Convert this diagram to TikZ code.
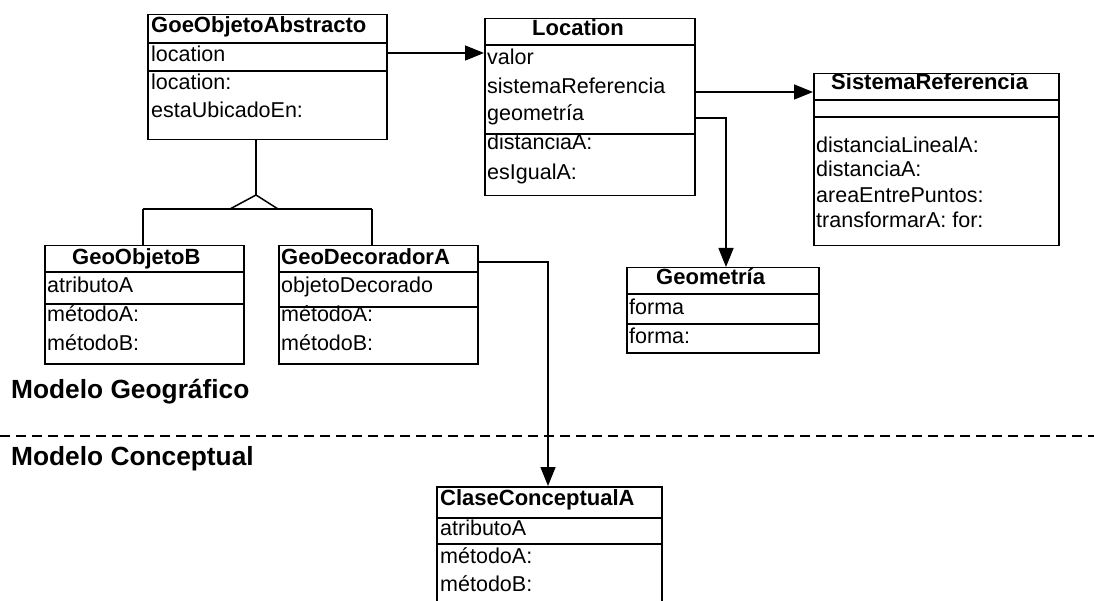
\documentclass[tikz,border=0pt]{standalone}
\usepackage{fontspec}
\setmainfont{Liberation Sans}
\usetikzlibrary{arrows.meta}
\begin{document}
\begin{tikzpicture}[x=1pt,y=-1pt,
  classbox/.style={draw, line width=1.5pt, rectangle, inner sep=0pt, anchor=north west},
  sep/.style={line width=1.5pt},
  member/.style={anchor=base west, inner sep=0pt, font=\fontsize{21.5}{25}\selectfont},
  title/.style={anchor=base west, inner sep=0pt, font=\fontsize{22}{25}\selectfont\bfseries},
  heading/.style={anchor=base west, inner sep=0pt, font=\fontsize{26.3}{30}\selectfont\bfseries},
  link/.style={line width=1.5pt},
  assoc/.style={link, -{Triangle[length=19pt,width=15pt]}},
]
\fill[white] (0,0) rectangle (1094,601);
\clip (0,0) rectangle (1094,601);

% ---- GoeObjetoAbstracto
\node[classbox, minimum width=239pt, minimum height=125pt] (goe) at (147,14) {};
\draw[sep] (147,43) -- (386,43);
\draw[sep] (147,71) -- (386,71);
\node[title]  (goeT)  at (151,33)  {GoeObjetoAbstracto};
\node[member] (goeA1) at (151,62)  {location};
\node[member] (goeM1) at (151,90)  {location:};
\node[member] (goeM2) at (151,118) {estaUbicadoEn:};

% ---- Location
\node[classbox, minimum width=210pt, minimum height=177pt] (loc) at (484,18) {};
\draw[sep] (484,45) -- (694,45);
\draw[sep] (484,134) -- (694,134);
\node[title]  (locT)  at (532,36)  {Location};
\node[member] (locA1) at (487,65)  {valor};
\node[member] (locA2) at (487,94)  {sistemaReferencia};
\node[member] (locA3) at (487,121) {geometría};
\node[member] (locM1) at (487,150) {distanciaA:};
\node[member] (locM2) at (487,180) {esIgualA:};

% ---- SistemaReferencia
\node[classbox, minimum width=245pt, minimum height=172pt] (sr) at (813,73) {};
\draw[sep] (813,100) -- (1058,100);
\draw[sep] (813,117) -- (1058,117);
\node[title]  (srT)  at (831,90)  {SistemaReferencia};
\node[member] (srM1) at (816,153) {distanciaLinealA:};
\node[member] (srM2) at (816,177) {distanciaA:};
\node[member] (srM3) at (816,203) {areaEntrePuntos:};
\node[member] (srM4) at (816,228) {transformarA: for:};

% ---- Geometría
\node[classbox, minimum width=192pt, minimum height=85pt] (geo) at (626,267) {};
\draw[sep] (626,294) -- (818,294);
\draw[sep] (626,324) -- (818,324);
\node[title]  (geoT)  at (656,285) {Geometría};
\node[member] (geoA1) at (629,315) {forma};
\node[member] (geoM1) at (629,343) {forma:};

% ---- GeoObjetoB
\node[classbox, minimum width=199pt, minimum height=118pt] (gob) at (44,245) {};
\draw[sep] (44,272) -- (243,272);
\draw[sep] (44,304) -- (243,304);
\node[title]  (gobT)  at (72,265) {GeoObjetoB};
\node[member] (gobA1) at (47,293) {atributoA};
\node[member] (gobM1) at (47,322) {métodoA:};
\node[member] (gobM2) at (47,350) {métodoB:};

% ---- GeoDecoradorA
\node[classbox, minimum width=199pt, minimum height=118pt] (gda) at (278,245) {};
\draw[sep] (278,272) -- (477,272);
\draw[sep] (278,307) -- (477,307);
\node[title]  (gdaT)  at (281,265) {GeoDecoradorA};
\node[member] (gdaA1) at (281,293) {objetoDecorado};
\node[member] (gdaM1) at (281,322) {métodoA:};
\node[member] (gdaM2) at (281,350) {métodoB:};

% ---- ClaseConceptualA (runs past the lower edge)
\node[classbox, minimum width=225pt, minimum height=130pt] (cca) at (436,486) {};
\draw[sep] (436,518) -- (661,518);
\draw[sep] (436,544) -- (661,544);
\node[title]  (ccaT)  at (440,505) {ClaseConceptualA};
\node[member] (ccaA1) at (440,535) {atributoA};
\node[member] (ccaM1) at (440,563) {métodoA:};
\node[member] (ccaM2) at (440,591) {métodoB:};

% ---- generalization
\coordinate (apex) at (256,195);
\coordinate (busL) at (143,209);
\coordinate (busR) at (372,209);
\draw[link] (goe.south -| apex) -- (apex);
\draw[link, fill=white] (apex) -- (230,209) -- (278,209) -- cycle;
\draw[link] (busL) -- (busR);
\draw[link] (busL) -- (busL |- gob.north);
\draw[link] (busR) -- (busR |- gda.north);

% ---- associations
\draw[assoc] (goe.east |- 0,53) -- (loc.west |- 0,53);
\draw[assoc] (loc.east |- 0,92) -- (sr.west |- 0,92);
\coordinate (geoBend) at (726,118);
\draw[assoc] (loc.east |- geoBend) -- (geoBend) -- (geoBend |- geo.north);
\coordinate (ccaBend) at (548,262);
\draw[assoc] (gda.east |- ccaBend) -- (ccaBend) -- (ccaBend |- cca.north);

% ---- model boundary
\coordinate (sepL) at (0,436);
\coordinate (sepR) at (1094,436);
\draw[line width=1.5pt, dash pattern=on 10pt off 6pt] (sepL) -- (sepR);
\node[heading] (mgeo) at (11,398) {Modelo Geográfico};
\node[heading] (mcon) at (11,465) {Modelo Conceptual};
\end{tikzpicture}
\end{document}
